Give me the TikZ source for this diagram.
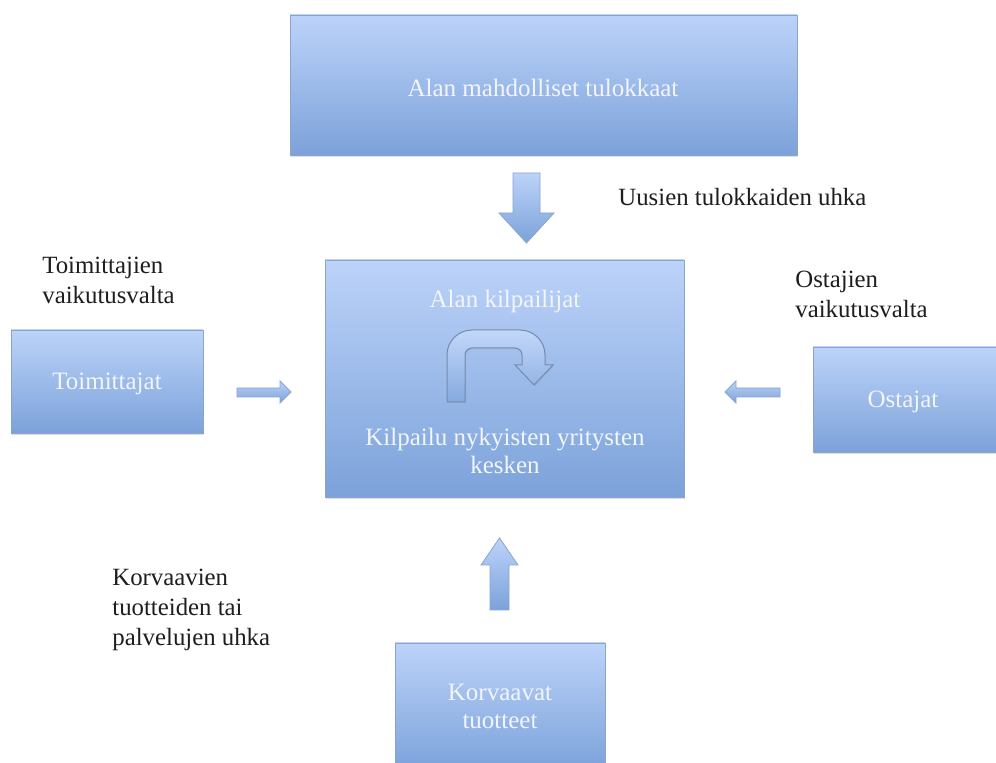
\documentclass[tikz,border=0pt]{standalone}
\usepackage{fontspec}
\setmainfont{Liberation Serif}
\usetikzlibrary{shadows}
\definecolor{btop}{RGB}{188,211,249}
\definecolor{bbot}{RGB}{124,162,218}
\definecolor{bedge}{RGB}{138,164,205}
\definecolor{btext}{RGB}{242,245,250}
\definecolor{lbl}{RGB}{30,30,30}
\tikzset{
  boxshape/.style={draw=bedge, line width=0.4pt, top color=btop, bottom color=bbot,
    drop shadow={opacity=0.25, shadow xshift=0.6pt, shadow yshift=-1pt}},
  arrowshape/.style={draw=bedge, line width=0.4pt, top color=btop, bottom color=bbot},
  boxtext/.style={text=btext, font=\fontsize{12.5}{15}\selectfont, align=center},
  lbltext/.style={text=lbl, font=\fontsize{12.4}{14}\selectfont, align=left, anchor=west, inner sep=0pt}
}
\begin{document}
\begin{tikzpicture}[x=0.5pt,y=0.5pt]
\useasboundingbox (0,0) rectangle (996,-763);
\fill[white] (0,0) rectangle (996,-763);

% boxes
\path[boxshape] (290,-15) rectangle (797,-155);
\node[boxtext] (top) at (543,-88) {Alan mahdolliset tulokkaat};

\path[boxshape] (325,-260) rectangle (684,-497);
\node[boxtext] (comp) at (505,-301) {Alan kilpailijat};
\node[boxtext, font=\fontsize{12.5}{14}\selectfont] (rival) at (505,-451) {Kilpailu nykyisten yritysten\\kesken};

\path[boxshape] (11,-330) rectangle (203,-433);
\node[boxtext] (sup) at (107,-384) {Toimittajat};

\path[boxshape] (813,-347) rectangle (1000,-452);
\node[boxtext] (buy) at (903,-402) {Ostajat};

\path[boxshape] (395,-643) rectangle (605,-770);
\node[boxtext, font=\fontsize{12.5}{14}\selectfont] (sub) at (500,-706) {Korvaavat\\tuotteet};

% U-turn arrow inside the central box
\path[draw=bedge!85!black, line width=0.5pt, top color=btop!90!white, bottom color=bbot!85!btop,
  drop shadow={opacity=0.15, shadow xshift=0.5pt, shadow yshift=-0.7pt}]
  (447,-402) -- (447,-355) arc(180:90:25) -- (520,-330) arc(90:0:25)
  -- (545,-365) -- (553,-365) -- (534,-385) -- (515,-365) -- (522,-365)
  -- (522,-355) arc(0:90:7) -- (472,-348) arc(90:180:7) -- (465,-402) -- cycle;

% down arrow
\path[arrowshape] (513,-173) -- (540,-173) -- (540,-213) -- (554,-213)
  -- (526.5,-243) -- (499,-213) -- (513,-213) -- cycle;

% up arrow
\path[arrowshape] (490,-610) -- (509,-610) -- (509,-565) -- (518,-565)
  -- (499.5,-538) -- (481,-565) -- (490,-565) -- cycle;

% right arrow (from suppliers)
\path[arrowshape] (237,-388) -- (280,-388) -- (280,-381) -- (291,-392)
  -- (280,-403) -- (280,-397) -- (237,-397) -- cycle;

% left arrow (from buyers)
\path[arrowshape] (780,-388) -- (736,-388) -- (736,-381) -- (725,-392)
  -- (736,-403) -- (736,-397) -- (780,-397) -- cycle;

% labels
\node[lbltext] (l1) at (618,-197) {Uusien tulokkaiden uhka};
\node[lbltext, anchor=north west] (l2) at (42,-257) {Toimittajien\\[1pt]vaikutusvalta};
\node[lbltext, anchor=north west] (l3) at (795,-271) {Ostajien\\[1pt]vaikutusvalta};
\node[lbltext, anchor=north west] (l4) at (112,-569) {Korvaavien\\[1pt]tuotteiden tai\\[1pt]palvelujen uhka};
\end{tikzpicture}
\end{document}
